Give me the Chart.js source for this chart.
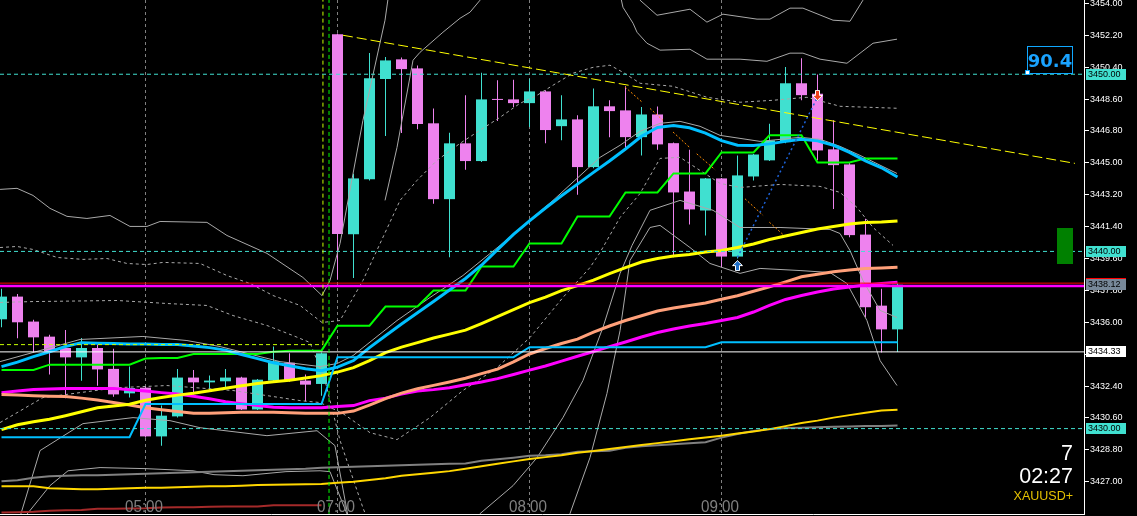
<!DOCTYPE html>
<html><head><meta charset="utf-8">
<script src="https://cdn.jsdelivr.net/npm/chart.js@4.4.1/dist/chart.umd.min.js"></script>
<style>html,body{margin:0;padding:0;background:#000;overflow:hidden}canvas{display:block}</style>
</head><body>
<canvas id="c" width="1137" height="516"></canvas>
<script>
// ---------- DATA (5-minute XAUUSD+ candles) ----------
const opens = [3436.17,3437.45,3436.04,3435.19,3434.55,3434.02,3434.55,3433.37,3431.99,3432.31,
3429.56,3430.69,3432.88,3432.61,3432.67,3432.88,3431.08,3432.71,3433.72,3432.71,
3432.52,3452.25,3440.97,3444.08,3449.73,3450.84,3450.33,3447.23,3442.95,3446.10,
3445.10,3448.58,3448.58,3448.37,3449.03,3447.07,3447.45,3444.76,3448.19,3447.96,
3446.45,3447.73,3446.11,3443.38,3442.31,3444.12,3439.71,3444.23,3445.14,3446.17,
3449.49,3448.90,3445.76,3444.91,3440.95,3436.94,3435.60];
const highs = [3437.90,3437.60,3436.14,3435.30,3435.57,3435.12,3434.74,3434.50,3433.51,3432.40,
3431.30,3433.37,3433.31,3432.99,3433.37,3432.93,3432.80,3434.63,3434.25,3433.05,
3434.30,3452.30,3444.38,3451.20,3450.97,3450.95,3450.50,3448.06,3446.70,3448.81,
3450.09,3449.66,3449.69,3449.75,3449.10,3448.81,3447.68,3449.19,3448.53,3449.32,
3448.15,3448.18,3446.15,3445.74,3444.15,3444.15,3445.42,3445.50,3447.21,3450.41,
3450.90,3449.99,3447.40,3445.00,3441.84,3437.89,3438.20];
const lows = [3435.72,3435.10,3434.30,3433.05,3431.71,3432.70,3432.42,3431.80,3431.76,3429.50,
3429.03,3430.63,3431.92,3432.14,3432.24,3431.05,3431.05,3432.65,3432.65,3431.54,
3431.86,3438.40,3438.50,3444.00,3446.51,3446.68,3446.90,3442.69,3439.67,3444.61,
3445.05,3447.36,3448.15,3447.02,3446.11,3446.27,3443.20,3444.70,3446.45,3445.80,
3445.42,3445.74,3439.67,3441.52,3440.90,3439.10,3439.60,3444.00,3445.10,3446.10,
3448.53,3445.14,3442.40,3440.80,3436.28,3434.30,3434.33];
const closes = [3437.45,3436.00,3435.15,3434.36,3434.02,3434.55,3433.34,3431.93,3432.29,3429.56,
3430.73,3432.88,3432.61,3432.71,3432.88,3431.08,3432.76,3433.80,3432.71,3432.48,
3434.25,3440.99,3444.12,3449.77,3450.78,3450.29,3447.19,3442.95,3446.10,3445.10,
3448.58,3448.55,3448.37,3449.03,3446.85,3447.45,3444.76,3448.19,3447.92,3446.45,
3447.73,3446.04,3443.33,3442.37,3444.12,3439.71,3444.29,3445.47,3446.27,3449.49,
3448.82,3445.70,3444.87,3440.92,3436.85,3435.60,3438.12];

const blueMA = [3433.50,3433.75,3434.06,3434.34,3434.63,3434.85,3434.82,3434.80,3434.78,3434.77,
3434.74,3434.74,3434.66,3434.57,3434.43,3434.18,3433.95,3433.72,3433.55,3433.38,
3433.27,3433.47,3433.84,3434.57,3435.24,3435.90,3436.54,3437.17,3437.82,3438.47,
3439.22,3440.10,3440.96,3441.72,3442.45,3443.14,3443.80,3444.46,3445.10,3445.78,
3446.50,3447.00,3447.11,3446.98,3446.68,3446.25,3445.99,3445.98,3446.07,3446.21,
3446.33,3446.24,3445.99,3445.59,3445.11,3444.72,3444.20];
const greenStep = [3433.31,3433.31,3433.31,3433.61,3433.61,3433.61,3433.61,3433.61,3433.61,3433.95,
3433.98,3433.99,3434.21,3434.21,3434.21,3434.21,3434.21,3434.34,3434.40,3434.40,
3434.40,3435.81,3435.81,3435.81,3436.89,3436.89,3436.89,3437.79,3437.79,3437.79,
3439.15,3439.15,3439.15,3440.45,3440.45,3440.45,3441.97,3441.97,3441.97,3443.33,
3443.33,3443.33,3444.40,3444.40,3444.40,3445.59,3445.59,3445.59,3446.55,3446.55,
3446.55,3445.02,3445.02,3445.02,3445.25,3445.25,3445.25];
const lowChannel = [3429.51,3429.51,3429.51,3429.51,3429.51,3429.51,3429.51,3429.51,3429.51,3431.39,
3431.39,3431.39,3431.39,3431.39,3431.39,3431.39,3431.39,3431.39,3431.39,3431.39,
3431.39,3434.03,3434.03,3434.03,3434.03,3434.03,3434.03,3434.03,3434.03,3434.03,
3434.03,3434.03,3434.03,3434.59,3434.59,3434.59,3434.59,3434.59,3434.59,3434.59,
3434.59,3434.59,3434.59,3434.59,3434.59,3434.87,3434.87,3434.87,3434.87,3434.87,
3434.87,3434.87,3434.87,3434.87,3434.87,3434.87,3434.87];
const yellowMA = [3429.94,3430.22,3430.39,3430.53,3430.73,3430.95,3431.18,3431.27,3431.38,3431.60,
3431.75,3431.89,3432.00,3432.14,3432.28,3432.42,3432.54,3432.65,3432.73,3432.85,
3432.99,3433.19,3433.44,3433.84,3434.29,3434.60,3434.85,3435.11,3435.33,3435.56,
3435.93,3436.32,3436.72,3437.11,3437.42,3437.79,3438.07,3438.38,3438.75,3439.09,
3439.40,3439.60,3439.74,3439.83,3439.97,3440.05,3440.22,3440.42,3440.67,3440.87,
3441.07,3441.27,3441.41,3441.55,3441.63,3441.66,3441.72];
const salmonMA = [3431.92,3431.89,3431.86,3431.83,3431.81,3431.72,3431.61,3431.47,3431.33,3431.18,
3431.07,3430.96,3430.87,3430.87,3430.90,3430.92,3430.92,3430.92,3430.90,3430.86,
3430.86,3430.86,3430.99,3431.33,3431.69,3432.00,3432.25,3432.44,3432.63,3432.84,
3433.10,3433.36,3433.77,3434.21,3434.52,3434.80,3435.05,3435.45,3435.79,3436.10,
3436.37,3436.64,3436.81,3436.95,3437.09,3437.30,3437.50,3437.75,3438.00,3438.28,
3438.57,3438.71,3438.85,3438.95,3439.03,3439.07,3439.11];
const magentaMA = [3432.03,3432.12,3432.20,3432.23,3432.26,3432.26,3432.27,3432.27,3432.19,3432.12,
3432.03,3431.95,3431.83,3431.69,3431.52,3431.41,3431.30,3431.21,3431.17,3431.17,
3431.17,3431.25,3431.30,3431.58,3431.72,3431.95,3432.12,3432.20,3432.31,3432.48,
3432.63,3432.82,3433.05,3433.30,3433.53,3433.81,3434.08,3434.35,3434.63,3434.89,
3435.17,3435.42,3435.62,3435.79,3435.93,3436.10,3436.27,3436.58,3436.95,3437.29,
3437.51,3437.71,3437.88,3437.99,3438.11,3438.19,3438.26];
const goldMA = [3426.74,3426.74,3426.74,3426.64,3426.61,3426.58,3426.58,3426.61,3426.64,3426.66,
3426.66,3426.69,3426.72,3426.74,3426.75,3426.78,3426.81,3426.83,3426.85,3426.86,
3426.88,3426.95,3427.00,3427.10,3427.20,3427.34,3427.43,3427.51,3427.60,3427.74,
3427.88,3428.02,3428.15,3428.28,3428.39,3428.50,3428.64,3428.73,3428.85,3428.96,
3429.07,3429.18,3429.29,3429.40,3429.50,3429.60,3429.72,3429.83,3429.97,3430.14,
3430.31,3430.45,3430.62,3430.76,3430.90,3431.02,3431.07];
const grayMA = [3427.03,3427.08,3427.23,3427.31,3427.34,3427.36,3427.37,3427.40,3427.42,3427.45,
3427.48,3427.51,3427.54,3427.56,3427.59,3427.62,3427.65,3427.68,3427.71,3427.73,
3427.79,3427.82,3427.85,3427.88,3427.90,3427.93,3427.96,3427.99,3428.02,3428.03,
3428.19,3428.27,3428.36,3428.47,3428.50,3428.55,3428.69,3428.72,3428.75,3428.92,
3429.01,3429.06,3429.12,3429.17,3429.23,3429.49,3429.69,3429.86,3429.97,3430.03,
3430.05,3430.08,3430.11,3430.12,3430.14,3430.15,3430.17];
const brownMA = [3425.26,3425.28,3425.31,3425.37,3425.39,3425.41,3425.48,3425.48,3425.49,3425.51,
3425.55,3425.56,3425.56,3425.59,3425.61,3425.61,3425.61,3425.67,3425.67,3425.67,3425.67];

// thin grey band lines (x = bar index, y = price)
const bandUpX = [-0.09,0.97,1.97,3.03,4.09,5.34,6.78,8.03,9.09,9.91,12.84,14.09,16.59,18.84,20.03,20.53,21.16,22.59,23.97,24.41,38.34,38.84,39.47,39.72,40.34,41.16,43.03,44.09,46.16,47.84,49.28,50.09,51.16,52.84,54.47,55.97];
const bandUpY = [3443.50,3443.56,3443.16,3442.43,3441.98,3441.86,3442.03,3441.41,3441.41,3441.69,3441.64,3440.90,3439.89,3438.53,3437.51,3438.36,3440.45,3447.40,3453.05,3455.88,3455.88,3453.78,3452.88,3452.37,3451.75,3451.36,3451.41,3450.85,3450.85,3450.73,3451.19,3451.19,3450.85,3450.62,3451.75,3451.98];
const bandTopX = [39.28,39.91,40.97,43.03,44.09,45.09,47.22,48.03,49.28,50.09,51.97,53.03,53.84,54.28];
const bandTopY = [3455.31,3454.18,3453.33,3453.67,3452.94,3453.39,3453.11,3453.11,3453.73,3453.73,3453.05,3452.99,3454.18,3455.31];
const bandUp2X = [23.97,24.72,25.72,26.16,27.59,28.66,29.28,29.91,30.16];
const bandUp2Y = [3442.88,3445.87,3450.79,3451.24,3452.37,3453.16,3453.50,3454.18,3455.31];
const bandMidX = [-0.09,0.97,1.97,3.47,5.09,6.59,7.84,9.09,10.09,12.41,14.09,15.53,16.97,18.66,20.03,21.16,22.59,24.91,25.97,27.22,28.66,29.91,31.16,32.41,33.47,34.47,35.72,36.97,38.03,38.84,39.91,41.97,44.09,46.16,48.22,50.34,52.41,55.97];
const bandMidY = [3440.22,3440.28,3440.11,3439.66,3439.55,3439.60,3439.32,3439.26,3439.38,3439.32,3438.64,3438.19,3437.51,3436.95,3435.99,3436.10,3438.36,3442.88,3444.01,3445.14,3446.10,3446.84,3447.57,3448.36,3448.81,3449.38,3450.06,3450.39,3450.51,3450.11,3449.49,3449.32,3448.70,3448.42,3448.53,3448.70,3448.19,3448.08];
const envX = [-0.09,1.97,7.22,9.28,10.34,12.84,14.47,16.59,18.22,19.28,20.22,21.16,22.59,23.16];
const envY = [3437.12,3437.17,3437.23,3437.12,3437.06,3436.95,3436.38,3435.82,3435.25,3434.86,3432.71,3429.32,3425.53,3424.24];
const bandLowX = [-0.09,2.59,7.22,10.34,14.47,18.66,19.91,21.34,23.03,24.72,26.78,28.84,30.97,33.03,35.09,36.78,37.41,38.66,39.91,41.16,42.41,43.66,44.91,46.16,48.66,51.16,52.41,53.47,54.47,55.72];
const bandLowY = [3430.34,3431.75,3432.31,3432.43,3432.15,3431.58,3431.47,3430.85,3429.77,3429.38,3430.62,3432.15,3433.44,3435.14,3437.40,3439.09,3439.94,3441.92,3443.27,3445.25,3445.31,3444.57,3443.84,3443.61,3443.78,3443.67,3443.33,3442.48,3441.35,3440.34];
const low2X = [1.16,2.41,5.09,8.22,10.53,12.41,16.59,19.72,20.84,21.66];
const low2Y = [3425.03,3428.76,3430.28,3430.62,3430.45,3430.05,3429.60,3429.88,3429.04,3425.03];
const low3X = [1.47,3.03,4.16,6.16,9.03,11.97,13.28,15.09,17.78,19.91,20.53,21.66];
const low3Y = [3425.03,3426.78,3427.62,3427.80,3427.74,3427.62,3427.40,3427.34,3427.57,3427.62,3427.57,3425.03];
const rise1X = [29.28,29.91,31.97,33.47,35.09,36.34,37.59,38.66,39.41,40.53,42.41,44.47,46.16,48.66,51.78,52.41,53.03,53.84,54.91,55.97];
const rise1Y = [3424.24,3425.20,3426.78,3428.36,3430.62,3432.71,3435.71,3438.76,3440.34,3442.32,3442.88,3442.32,3441.35,3441.35,3441.24,3441.01,3440.05,3438.36,3436.67,3436.27];
const rise2X = [35.22,35.53,36.78,37.84,38.66,39.28,40.53,41.16,43.03,44.28,46.16,47.41,49.91,51.78,52.84,54.09,54.91,55.97];
const rise2Y = [3424.24,3425.20,3428.36,3431.98,3435.53,3439.49,3441.35,3441.47,3440.22,3439.32,3438.76,3439.04,3438.92,3438.81,3438.19,3436.10,3433.84,3432.43];
const greyMAX = [-0.09,4.91,8.84,11.59,13.66,17.41,19.91,20.97,21.97,24.72,26.78,28.84,31.16,34.47,37.41,38.66,39.91,41.16,42.41,43.66,44.91,47.41,49.91,51.16,52.41,53.66,55.97];
const greyMAY = [3433.78,3435.03,3435.20,3434.97,3434.63,3433.78,3433.50,3433.67,3434.12,3436.10,3437.40,3438.64,3440.34,3442.88,3445.31,3445.99,3446.78,3447.23,3447.34,3447.06,3446.55,3446.21,3446.44,3446.33,3445.93,3445.42,3444.40];

// objects
const levelPrices = [3450.00, 3440.00, 3430.00];
const dayLow = 3434.33;
const askPrice = 3438.21;
const bidLine = 3438.05;
const sessionLevel = 3434.74;
const sessionX = 20.09, sessionX2 = 20.47;
const trendX = [21.34, 67.09], trendY = [3452.20, 3444.97];
const signalX = [46, 51], signalY = [3439.66, 3448.71];
const zigStartX = [38.97,40.53,41.97,43.45,46.47,47.99], zigStartY = [3449.28,3448.07,3446.74,3445.51,3442.97,3441.65];
const zigEndX = [40.03,41.34,43.03,44.60,47.60,48.91], zigEndY = [3448.43,3447.40,3445.85,3444.61,3442.03,3440.90];
const arrowX = [46, 51], arrowY = [3439.20, 3448.81];

const timeTickIdx = [9, 21, 33, 45];
const timeLabels = ['05:00', '07:00', '08:00', '09:00'];
const yTicks = [3454.00,3452.20,3450.40,3448.60,3446.80,3445.00,3443.20,3441.40,3439.60,3437.80,3436.00,3434.20,3432.40,3430.60,3428.80,3427.00];
const tagPrices = [3450.00, 3440.00, closes[closes.length-1], dayLow, 3430.00];
const panelValue = '90.4';
const timerLines = ['7', '02:27'];
const symbolName = 'XAUUSD+';

// ---------- CHART ----------
const X_MIN = -0.09375, X_MAX = 67.65625, Y_MIN = 3425.18, Y_MAX = 3454.19;
const BULL = '#40E0D0', BEAR = '#EE82EE';
const idx = closes.map((_, i) => i);
const colors = closes.map((c, i) => c > opens[i] ? BULL : BEAR);
const series = arr => arr.map((v, i) => ({x: i, y: v}));
const pairs = (xs, ys) => xs.map((x, i) => ({x: x, y: ys[i]}));
function line(data, color, width, dash, order) {
  return {type: 'line', data: data, borderColor: color, borderWidth: width, borderDash: dash || [],
    pointRadius: 0, pointHoverRadius: 0, fill: false, tension: 0, spanGaps: false, order: order};
}
function hline(v, color, width, dash, order) {
  return line([{x: X_MIN, y: v}, {x: X_MAX, y: v}], color, width, dash, order);
}
function arrowCanvas(fill, up) {
  const c = document.createElement('canvas'); c.width = 11; c.height = 11;
  const g = c.getContext('2d');
  let p = [[5.5,0.5],[10.5,5.5],[7.5,5.5],[7.5,10.5],[3.5,10.5],[3.5,5.5],[0.5,5.5]];
  if (!up) p = p.map(q => [q[0], 11 - q[1]]);
  g.beginPath(); p.forEach((q, k) => k ? g.lineTo(q[0], q[1]) : g.moveTo(q[0], q[1])); g.closePath();
  g.fillStyle = fill; g.fill(); g.strokeStyle = '#fff'; g.lineWidth = 1; g.stroke();
  return c;
}
const zigData = [];
zigStartX.forEach((sx, k) => {
  zigData.push({x: sx, y: zigStartY[k]}, {x: zigEndX[k], y: zigEndY[k]}, {x: zigEndX[k] + 0.01, y: null});
});

const GREY = '#A9A9A9';
const datasets = [
  {type: 'bar', data: idx.map(i => ({x: i, y: [lows[i], highs[i]]})), backgroundColor: colors,
   barThickness: 1, grouped: false, borderWidth: 0, inflateAmount: 0, order: 101},
  {type: 'bar', data: idx.map(i => ({x: i, y: [Math.min(opens[i], closes[i]), Math.max(opens[i], closes[i])]})),
   backgroundColor: colors, barThickness: 11, grouped: false, borderWidth: 0, inflateAmount: 0, minBarLength: 1, order: 100},
  line(pairs(bandUpX, bandUpY), GREY, 1, [], 60),
  line(pairs(bandTopX, bandTopY), GREY, 1, [], 60),
  line(pairs(bandUp2X, bandUp2Y), GREY, 1, [], 60),
  line(pairs(bandMidX, bandMidY), GREY, 1, [3, 3], 60),
  line(pairs(envX, envY), GREY, 1, [3, 3], 60),
  line(pairs(bandLowX, bandLowY), GREY, 1, [3, 3], 60),
  line(pairs(low2X, low2Y), GREY, 1, [], 60),
  line(pairs(low3X, low3Y), GREY, 1, [], 60),
  line(pairs(rise1X, rise1Y), GREY, 1, [], 60),
  line(pairs(rise2X, rise2Y), GREY, 1, [], 60),
  line(pairs(greyMAX, greyMAY), GREY, 1, [], 60),
  line(series(brownMA), '#A52A2A', 2, [], 50),
  line(series(grayMA), '#808080', 2, [], 50),
  line(series(goldMA), '#FFD700', 2, [], 49),
  line(series(magentaMA), '#FF00FF', 3, [], 45),
  line(series(salmonMA), '#FFA07A', 3, [], 44),
  line(series(yellowMA), '#FFFF00', 3, [], 43),
  line(series(lowChannel), '#00BFFF', 2, [], 42),
  line(series(greenStep), '#00FF00', 2, [], 41),
  line(series(blueMA), '#00BFFF', 3, [], 40),
  ...levelPrices.map(v => hline(v, '#40E0D0', 1, [4, 3], 30)),
  hline(dayLow, '#FFFFFF', 1, [], 30),
  hline(askPrice, '#FF0000', 1, [], 29),
  hline(bidLine, '#FF00FF', 2.5, [], 28),
  line([{x: X_MIN, y: sessionLevel}, {x: sessionX, y: sessionLevel}], '#C8FF00', 1, [4, 3], 25),
  line([{x: sessionX, y: sessionLevel}, {x: sessionX, y: 3456}], '#C8FF00', 1, [4, 3], 25),
  line([{x: sessionX2, y: 3424}, {x: sessionX2, y: 3456}], '#00FF00', 1, [4, 3], 25),
  line(pairs(trendX, trendY), '#FFFF00', 1, [10, 4], 20),
  line(pairs(signalX, signalY), '#1E64DC', 1.5, [2, 3], 20),
  line(zigData, '#FF8C00', 1, [2, 2], 20),
  {type: 'line', data: pairs(arrowX, arrowY), showLine: false, pointRadius: 5, pointHoverRadius: 5,
   pointStyle: [arrowCanvas('#1E6EC8', true), arrowCanvas('#F0401C', false)], order: 10}
];

const overlay = {
  id: 'overlay',
  beforeDatasetsDraw(chart) {
    const {ctx, chartArea: a, scales: {x}} = chart;
    ctx.save();
    ctx.strokeStyle = '#808080'; ctx.lineWidth = 1; ctx.setLineDash([3, 3]);
    timeTickIdx.forEach(t => {
      const px = Math.floor(x.getPixelForValue(t)) + 0.5;
      ctx.beginPath(); ctx.moveTo(px, a.top); ctx.lineTo(px, a.bottom); ctx.stroke();
    });
    ctx.restore();
  },
  afterDraw(chart) {
    const {ctx, chartArea: a, scales: {x, y}} = chart;
    ctx.save();
    // time labels
    ctx.fillStyle = '#808080';
    ctx.font = '17px "Liberation Sans", sans-serif';
    ctx.textAlign = 'center'; ctx.textBaseline = 'alphabetic';
    timeTickIdx.forEach((t, k) => {
      const px = x.getPixelForValue(t) - 1.5;
      const w = ctx.measureText(timeLabels[k]).width;
      ctx.save(); ctx.translate(px, 512); ctx.scale(38 / w, 1);
      ctx.fillText(timeLabels[k], 0, 0); ctx.restore();
    });
    // price tags on the axis
    const tagBg = ['#40E0D0', '#40E0D0', '#778899', '#FFFFFF', '#40E0D0'];
    ctx.font = '9px "Liberation Sans", sans-serif';
    ctx.textAlign = 'left'; ctx.textBaseline = 'middle';
    tagPrices.forEach((v, k) => {
      const py = y.getPixelForValue(v);
      const top = Math.round(py - 5.5);
      ctx.fillStyle = tagBg[k]; ctx.fillRect(a.right + 2, top, 40, 11);
      if (k === 2) { ctx.fillStyle = '#FF0000'; ctx.fillRect(a.right + 2, top - 1, 40, 1); }
      ctx.fillStyle = '#000'; ctx.fillText(v.toFixed(2), a.right + 4, top + 6);
    });
    // value panel
    ctx.strokeStyle = '#10A8FF'; ctx.lineWidth = 1; ctx.setLineDash([]);
    ctx.strokeRect(1027.5, 46.5, 45, 27);
    ctx.fillStyle = '#1AA3FF'; ctx.font = 'bold 18px "DejaVu Sans", sans-serif';
    ctx.textAlign = 'center'; ctx.textBaseline = 'alphabetic';
    ctx.fillText(panelValue, 1050, 66.5);
    ctx.fillStyle = '#FFFFFF'; ctx.fillRect(1025.5, 70.5, 4, 4);
    ctx.strokeStyle = '#10A8FF'; ctx.strokeRect(1025.5, 70.5, 4, 4);
    // green box
    ctx.fillStyle = '#008000'; ctx.fillRect(1057, 228, 16, 36);
    // timer & symbol
    ctx.textAlign = 'right'; ctx.fillStyle = '#FFFFFF';
    ctx.font = '21.5px "Liberation Sans", sans-serif';
    ctx.fillText(timerLines[0], 1073, 460);
    ctx.fillText(timerLines[1], 1073, 483);
    ctx.fillStyle = '#E6C200'; ctx.font = '12.5px "Liberation Sans", sans-serif';
    ctx.fillText(symbolName, 1073, 500);
    ctx.restore();
  }
};

new Chart(document.getElementById('c'), {
  type: 'line',
  data: {datasets: datasets},
  options: {
    responsive: false, animation: false, devicePixelRatio: 1,
    layout: {padding: 0, autoPadding: false},
    events: [],
    plugins: {legend: {display: false}, tooltip: {enabled: false}},
    scales: {
      x: {type: 'linear', min: X_MIN, max: X_MAX, offset: false,
        grid: {display: false, drawTicks: false, offset: false},
        ticks: {display: false},
        border: {display: true, color: '#FFFFFF', width: 1},
        afterFit(s) { s.height = 2; s.paddingLeft = 0; s.paddingRight = 0; }
      },
      y: {type: 'linear', position: 'right', min: Y_MIN, max: Y_MAX,
        grid: {display: true, drawOnChartArea: false, drawTicks: true, tickLength: 5, color: '#FFFFFF', lineWidth: 1},
        border: {display: true, color: '#FFFFFF', width: 1},
        ticks: {color: '#FFFFFF', font: {family: '"Liberation Sans", sans-serif', size: 9}, padding: 1,
          autoSkip: false, callback: v => Number(v).toFixed(2)},
        afterBuildTicks(s) { s.ticks = yTicks.map(v => ({value: v})); },
        afterFit(s) { s.width = 53; s.paddingTop = 0; s.paddingBottom = 0; }
      }
    }
  },
  plugins: [overlay]
});
</script>
</body></html>
